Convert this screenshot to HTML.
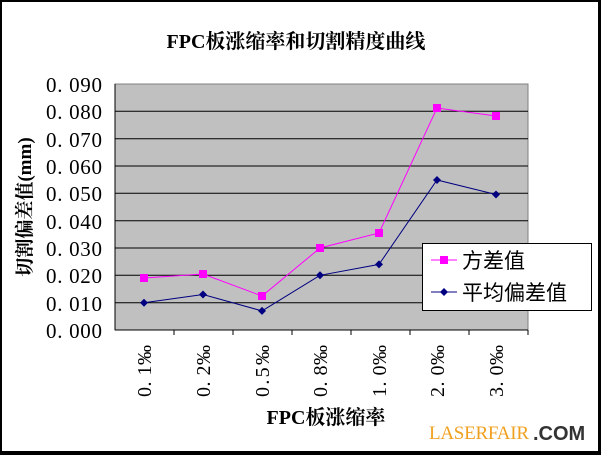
<!DOCTYPE html><html><head><meta charset="utf-8"><style>body{margin:0;background:#fff}svg{display:block}</style></head><body>
<svg width="601" height="455" xmlns="http://www.w3.org/2000/svg" font-family="Liberation Serif, Noto Serif CJK SC, serif">
<rect x="0" y="0" width="601" height="455" fill="#000"/>
<rect x="2" y="2" width="596" height="449" fill="#fff"/>
<text x="296" y="48" font-size="20" font-weight="bold" text-anchor="middle">FPC板涨缩率和切割精度曲线</text>
<rect x="115" y="84" width="413" height="246" fill="#c0c0c0" stroke="#808080"/>
<g stroke="#000" stroke-width="1">
<line x1="115" y1="111.3" x2="528" y2="111.3"/><line x1="115" y1="138.7" x2="528" y2="138.7"/><line x1="115" y1="166" x2="528" y2="166"/><line x1="115" y1="193.3" x2="528" y2="193.3"/><line x1="115" y1="220.7" x2="528" y2="220.7"/><line x1="115" y1="248" x2="528" y2="248"/><line x1="115" y1="275.3" x2="528" y2="275.3"/><line x1="115" y1="302.7" x2="528" y2="302.7"/>
<line x1="115" y1="330" x2="528" y2="330"/><line x1="115" y1="84" x2="115" y2="330"/>
<line x1="174" y1="330" x2="174" y2="335"/><line x1="233" y1="330" x2="233" y2="335"/><line x1="292" y1="330" x2="292" y2="335"/><line x1="351" y1="330" x2="351" y2="335"/><line x1="410" y1="330" x2="410" y2="335"/><line x1="469" y1="330" x2="469" y2="335"/><line x1="528" y1="330" x2="528" y2="335"/>
</g>
<g font-size="21" text-anchor="end" fill="#000">
<text x="102" y="92" textLength="56">0. 090</text><text x="102" y="119" textLength="56">0. 080</text><text x="102" y="147" textLength="56">0. 070</text><text x="102" y="174" textLength="56">0. 060</text><text x="102" y="201" textLength="56">0. 050</text><text x="102" y="229" textLength="56">0. 040</text><text x="102" y="256" textLength="56">0. 030</text><text x="102" y="283" textLength="56">0. 020</text><text x="102" y="311" textLength="56">0. 010</text><text x="102" y="338" textLength="56">0. 000</text>
</g>
<text transform="translate(31,207) rotate(-90)" font-size="19" font-weight="bold" text-anchor="middle">切割偏差值(mm)</text>
<g font-size="20" fill="#000">
<text transform="translate(151,397) rotate(-90)" textLength="52">0. 1‰</text><text transform="translate(210,397) rotate(-90)" textLength="52">0. 2‰</text><text transform="translate(269,397) rotate(-90)" textLength="52">0.5‰</text><text transform="translate(327,397) rotate(-90)" textLength="52">0. 8‰</text><text transform="translate(386,397) rotate(-90)" textLength="52">1. 0‰</text><text transform="translate(444,397) rotate(-90)" textLength="52">2. 0‰</text><text transform="translate(503,397) rotate(-90)" textLength="52">3. 0‰</text>
</g>
<text x="326" y="424" font-size="20" font-weight="bold" text-anchor="middle">FPC板涨缩率</text>
<polyline fill="none" stroke="#ff00ff" points="144,278 203,274 262,296 320,248 379,233 437,108 496,116"/>
<g fill="#ff00ff"><rect x="140" y="274" width="8" height="8"/><rect x="199" y="270" width="8" height="8"/><rect x="258" y="292" width="8" height="8"/><rect x="316" y="244" width="8" height="8"/><rect x="375" y="229" width="8" height="8"/><rect x="433" y="104" width="8" height="8"/><rect x="492" y="112" width="8" height="8"/></g>
<polyline fill="none" stroke="#000080" points="144,302.7 203,294.5 262,310.9 320,275.3 379,264.4 437,180 496,194.5"/>
<g fill="#000080"><path d="M144 298.7l4 4-4 4-4-4z"/><path d="M203 290.5l4 4-4 4-4-4z"/><path d="M262 306.9l4 4-4 4-4-4z"/><path d="M320 271.3l4 4-4 4-4-4z"/><path d="M379 260.4l4 4-4 4-4-4z"/><path d="M437 176l4 4-4 4-4-4z"/><path d="M496 190.5l4 4-4 4-4-4z"/></g>
<rect x="422.5" y="243.5" width="169" height="67" fill="#fff" stroke="#000"/>
<line x1="431" y1="260" x2="457" y2="260" stroke="#ff00ff"/><rect x="440" y="256" width="8" height="8" fill="#ff00ff"/>
<line x1="431" y1="292" x2="457" y2="292" stroke="#000080"/><path d="M444 288l4 4-4 4-4-4z" fill="#000080"/>
<g font-size="21" font-family="Liberation Sans, Noto Sans CJK SC, sans-serif"><text x="462" y="268">方差值</text><text x="462" y="300">平均偏差值</text></g>
<text x="429" y="439" font-size="19" fill="#f0a020" textLength="100">LASERFAIR</text>
<text x="533" y="440" font-size="20" font-weight="bold" font-family="Liberation Sans, sans-serif" fill="#333">.COM</text>
</svg></body></html>
